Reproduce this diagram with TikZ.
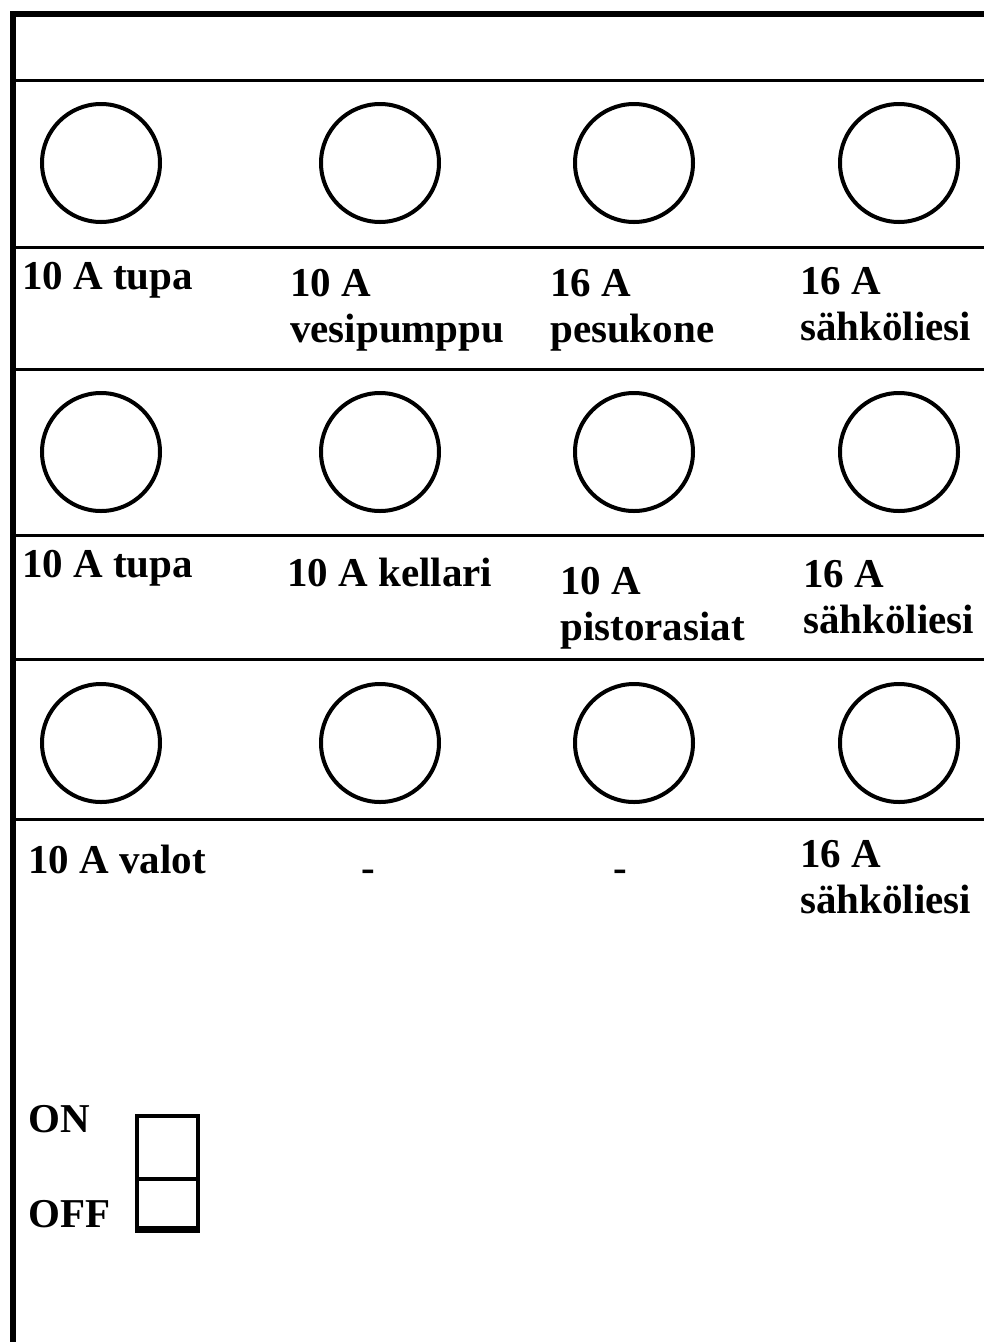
\documentclass[tikz,border=0pt]{standalone}
\usepackage{fontspec}
\setmainfont{Liberation Serif}

\begin{document}
\begin{tikzpicture}[x=1pt, y=-1pt,
    fuse/.style={circle, draw=black, line width=4pt, minimum size=118pt, inner sep=0pt},
    lbl/.style={anchor=north west, inner sep=0pt, align=left,
        font=\bfseries\fontsize{41}{46}\selectfont},
    dashlbl/.style={anchor=base, inner sep=0pt, font=\bfseries\fontsize{41}{46}\selectfont},
    switchbox/.style={rectangle, draw=black, line width=4pt, anchor=north west,
        minimum width=61pt, inner sep=0pt}]
    \useasboundingbox (0,0) rectangle (984,1342);

    % frame and rails
    \draw[line width=6pt] (13,1342) -- (13,14) -- (984,14);
    \draw[line width=3pt] (13,80) -- (984,80);
    \draw[line width=3pt] (13,247) -- (984,247);
    \draw[line width=3pt] (13,369) -- (984,369);
    \draw[line width=3pt] (13,535) -- (984,535);
    \draw[line width=3pt] (13,659) -- (984,659);
    \draw[line width=3pt] (13,819) -- (984,819);

    % fuses, row 1
    \node[fuse] (f11) at (101,163) {};
    \node[fuse] (f12) at (380,163) {};
    \node[fuse] (f13) at (634,163) {};
    \node[fuse] (f14) at (899,163) {};
    \node[lbl] (l11) at (22,262) {10 A tupa};
    \node[lbl] (l12) at (290,269) {10 A\\vesipumppu};
    \node[lbl] (l13) at (550,269) {16 A\\pesukone};
    \node[lbl] (l14) at (800,267) {16 A\\sähköliesi};

    % fuses, row 2
    \node[fuse] (f21) at (101,452) {};
    \node[fuse] (f22) at (380,452) {};
    \node[fuse] (f23) at (634,452) {};
    \node[fuse] (f24) at (899,452) {};
    \node[lbl] (l21) at (22,550) {10 A tupa};
    \node[lbl] (l22) at (287,558) {10 A kellari};
    \node[lbl] (l23) at (560,567) {10 A\\pistorasiat};
    \node[lbl] (l24) at (803,560) {16 A\\sähköliesi};

    % fuses, row 3
    \node[fuse] (f31) at (101,743) {};
    \node[fuse] (f32) at (380,743) {};
    \node[fuse] (f33) at (634,743) {};
    \node[fuse] (f34) at (899,743) {};
    \node[lbl] (l31) at (28,845) {10 A valot};
    \node[dashlbl] (l32) at (368,881) {-};
    \node[dashlbl] (l33) at (620,881) {-};
    \node[lbl] (l34) at (800,840) {16 A\\sähköliesi};

    % main switch
    \node[switchbox, minimum height=63pt] (on) at (135,1114) {};
    \node[switchbox, minimum height=49pt] (off) at (135,1177) {};
    \draw[line width=6pt] (off.south west) -- (off.south east);
    \node[lbl] (onlbl) at (28,1105) {ON};
    \node[lbl] (offlbl) at (28,1200) {OFF};
\end{tikzpicture}
\end{document}
